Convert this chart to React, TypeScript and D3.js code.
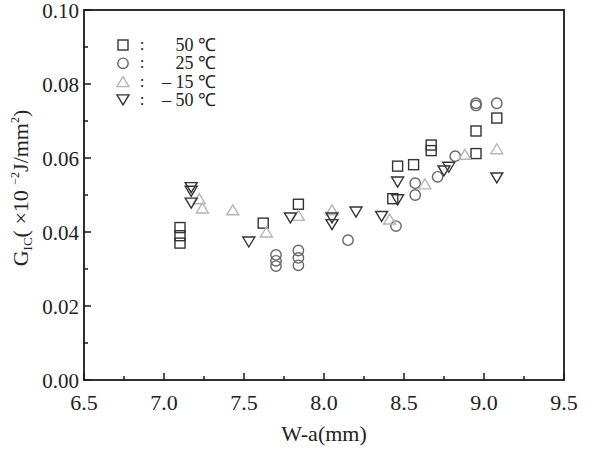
import React from 'react';
import * as d3 from 'd3';

// W-a (mm) vs G_IC for four test temperatures
const sq50X = [7.1, 7.1, 7.1, 7.62, 7.84, 8.43, 8.46, 8.56, 8.67, 8.67, 8.95, 8.95, 9.08];
const sq50Y = [0.0412, 0.039, 0.037, 0.0424, 0.0475, 0.049, 0.0578, 0.0582, 0.0635, 0.062, 0.0673, 0.0612, 0.0708];

const ci25X = [7.7, 7.7, 7.7, 7.84, 7.84, 7.84, 8.15, 8.45, 8.57, 8.57, 8.71, 8.82, 8.95, 8.95, 9.08];
const ci25Y = [0.0338, 0.0322, 0.0308, 0.035, 0.033, 0.031, 0.0378, 0.0416, 0.0532, 0.05, 0.0549, 0.0605, 0.0748, 0.0742, 0.0748];

const up15X = [7.22, 7.24, 7.43, 7.64, 7.84, 8.05, 8.41, 8.63, 8.88, 9.08];
const up15Y = [0.049, 0.0465, 0.046, 0.04, 0.0445, 0.046, 0.0435, 0.053, 0.061, 0.0625];

const dn50X = [7.17, 7.17, 7.17, 7.53, 7.79, 8.05, 8.05, 8.2, 8.36, 8.46, 8.46, 8.75, 8.78, 9.08];
const dn50Y = [0.052, 0.051, 0.0478, 0.0373, 0.0438, 0.0438, 0.042, 0.0454, 0.0442, 0.0535, 0.0487, 0.0565, 0.0575, 0.0546];

const xTicks = [6.5, 7.0, 7.5, 8.0, 8.5, 9.0, 9.5];
const yTicks = [0, 0.02, 0.04, 0.06, 0.08, 0.1];
const legendLabels = ['50 \u2103', '25 \u2103', '\u2013 15 \u2103', '\u2013 50 \u2103'];

const W = 606;
const H = 449;
const margin = { left: 84, right: 42, top: 10, bottom: 69 };
const FONT = "'Liberation Serif', 'Times New Roman', Times, serif";

type Shape = 'square' | 'circle' | 'up' | 'down';

const Marker: React.FC<{ shape: Shape; x: number; y: number; color: string }> = ({ shape, x, y, color }) => {
  const common = { fill: 'none', stroke: color, strokeWidth: 1.4 };
  if (shape === 'square') return <rect x={x - 5} y={y - 5} width={10} height={10} {...common} />;
  if (shape === 'circle') return <circle cx={x} cy={y} r={5.2} {...common} />;
  if (shape === 'up') return <path d={`M${x},${y - 5} L${x + 6},${y + 5} L${x - 6},${y + 5} Z`} {...common} />;
  return <path d={`M${x},${y + 5} L${x + 6},${y - 5} L${x - 6},${y - 5} Z`} {...common} />;
};

const series: { shape: Shape; color: string; xs: number[]; ys: number[] }[] = [
  { shape: 'square', color: '#333', xs: sq50X, ys: sq50Y },
  { shape: 'circle', color: '#666', xs: ci25X, ys: ci25Y },
  { shape: 'up', color: '#b5b5b5', xs: up15X, ys: up15Y },
  { shape: 'down', color: '#333', xs: dn50X, ys: dn50Y },
];

const App: React.FC = () => {
  const x = d3.scaleLinear().domain([6.5, 9.5]).range([margin.left, W - margin.right]);
  const y = d3.scaleLinear().domain([0, 0.1]).range([H - margin.bottom, margin.top]);
  const minorX = d3.range(6.75, 9.5, 0.5);
  const minorY = d3.range(0.01, 0.1, 0.02);
  const axisColor = '#1a1a1a';
  const textColor = '#222';

  return (
    <svg width={W} height={H} style={{ position: 'fixed', left: 0, top: 0, background: '#fff', fontFamily: FONT }}>
      {/* frame */}
      <rect x={x(6.5)} y={y(0.1)} width={x(9.5) - x(6.5)} height={y(0) - y(0.1)} fill="none" stroke={axisColor} strokeWidth={1.8} />

      {/* x ticks, pointing inward */}
      {xTicks.map(t => (
        <g key={`xt${t}`}>
          <line x1={x(t)} x2={x(t)} y1={y(0)} y2={y(0) - 7} stroke={axisColor} strokeWidth={1.5} />
          <text x={x(t)} y={y(0) + 30} textAnchor="middle" fontSize={22} fill={textColor}>{t.toFixed(1)}</text>
        </g>
      ))}
      {minorX.map(t => (
        <line key={`xm${t}`} x1={x(t)} x2={x(t)} y1={y(0)} y2={y(0) - 4} stroke={axisColor} strokeWidth={1.5} />
      ))}

      {/* y ticks, pointing inward */}
      {yTicks.map(t => (
        <g key={`yt${t}`}>
          <line x1={x(6.5)} x2={x(6.5) + 7} y1={y(t)} y2={y(t)} stroke={axisColor} strokeWidth={1.5} />
          <text x={x(6.5) - 5} y={y(t) + 8} textAnchor="end" fontSize={21} fill={textColor}>{t.toFixed(2)}</text>
        </g>
      ))}
      {minorY.map(t => (
        <line key={`ym${t}`} x1={x(6.5)} x2={x(6.5) + 4} y1={y(t)} y2={y(t)} stroke={axisColor} strokeWidth={1.5} />
      ))}

      {/* axis titles */}
      <text x={(x(6.5) + x(9.5)) / 2} y={441} textAnchor="middle" fontSize={22} fill={textColor}>W-a(mm)</text>
      <text transform="translate(28,188) rotate(-90)" textAnchor="middle" fontSize={22} fill={textColor}>
        G<tspan fontSize={13} dy={4}>IC</tspan><tspan dy={-4}>( ×10 </tspan>
        <tspan fontSize={12} dy={-9}>−2</tspan><tspan dy={9}>J/mm</tspan>
        <tspan fontSize={12} dy={-9}>2</tspan><tspan dy={9}>)</tspan>
      </text>

      {/* data */}
      {series.map((s, si) => (
        <g key={`s${si}`}>
          {s.xs.map((xv, i) => (
            <Marker key={i} shape={s.shape} x={x(xv)} y={y(s.ys[i])} color={s.color} />
          ))}
        </g>
      ))}

      {/* legend */}
      {series.map((s, i) => {
        const ly = 45 + i * 18.3;
        return (
          <g key={`lg${i}`}>
            <Marker shape={s.shape} x={123} y={ly} color={s.color} />
            <text x={142} y={ly + 5} textAnchor="middle" fontSize={17} fill={textColor}>:</text>
            <text x={216} y={ly + 6} textAnchor="end" fontSize={18} fill={textColor}>{legendLabels[i]}</text>
          </g>
        );
      })}
    </svg>
  );
};

export default App;
